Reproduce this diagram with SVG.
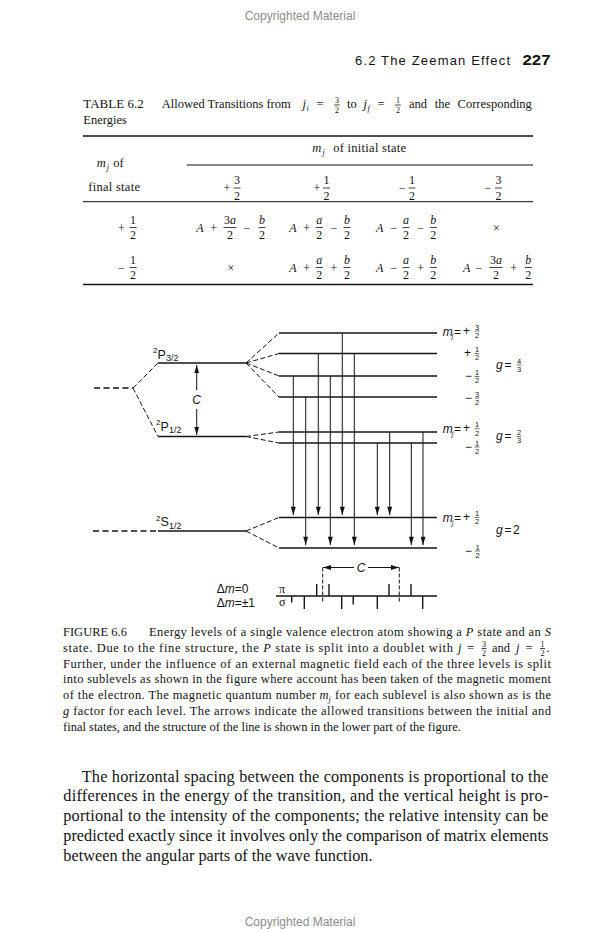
<svg xmlns="http://www.w3.org/2000/svg" width="600" height="933" viewBox="0 0 600 933">
<style>
.s{font-family:"Liberation Serif","Times New Roman",serif;fill:#141414}
.a{font-family:"Liberation Sans",Arial,sans-serif;fill:#141414}
.i{font-style:italic}
.m{text-anchor:middle}
.t{font-size:12.5px}
.f{font-size:12px}
.c{font-size:12.5px}
.b{font-size:16.3px}
.cr{font-family:"Liberation Sans",Arial,sans-serif;font-size:12px;fill:#8c8c8c}
.rule{stroke:#141414;stroke-width:1}
.rule2{stroke:#141414;stroke-width:1.6}
.bar{stroke:#141414;stroke-width:0.8}
.lvl{stroke:#141414;stroke-width:1.6;fill:none}
.dsh{stroke:#141414;stroke-width:1;stroke-dasharray:5 2.5;fill:none}
.dh{stroke:#141414;stroke-width:1.4;stroke-dasharray:6 3.5;fill:none}
.tr{stroke:#141414;stroke-width:1;fill:none;marker-end:url(#ah)}
.tick{stroke:#141414;stroke-width:1.4}
.fr{font-family:"Liberation Sans",Arial,sans-serif;font-size:7.5px;fill:#141414;text-anchor:middle}
.fb{stroke:#141414;stroke-width:0.6}
.lb{font-family:"Liberation Sans",Arial,sans-serif;font-size:12px;fill:#141414}
</style>
<defs>
<marker id="ah" viewBox="0 0 10 6" refX="10" refY="3" markerWidth="10" markerHeight="5" markerUnits="userSpaceOnUse" orient="auto"><path d="M0,0 L10,3 L0,6 z" fill="#141414"/></marker>
<marker id="ah2" viewBox="0 0 10 6" refX="10" refY="3" markerWidth="8" markerHeight="5" markerUnits="userSpaceOnUse" orient="auto-start-reverse"><path d="M0,0 L10,3 L0,6 z" fill="#141414"/></marker>
</defs>
<rect width="600" height="933" fill="#ffffff"/>

<!-- page header -->
<text class="cr m" x="300" y="19.5">Copyrighted Material</text>
<text class="a" x="355" y="65" font-size="13" textLength="155" lengthAdjust="spacing">6.2 The Zeeman Effect</text>
<text class="a" x="522.5" y="65" font-size="14" font-weight="bold" textLength="28" lengthAdjust="spacingAndGlyphs">227</text>

<!-- table caption -->
<g id="table-caption">
<text class="s" font-size="13" x="83.3" y="108">TABLE 6.2</text>
<text class="s t" x="161.7" y="108" textLength="129" lengthAdjust="spacing">Allowed Transitions from</text>
<text class="s t i" x="302.5" y="108">j</text><text class="s i" font-size="8" x="306.5" y="111">i</text>
<text class="s t m" x="320" y="108">=</text>
<text class="s m" font-size="8" x="337" y="103">3</text><line class="bar" x1="334.2" y1="105" x2="339.8" y2="105"/><text class="s m" font-size="8" x="337" y="112.5">2</text>
<text class="s t" x="347" y="108">to</text>
<text class="s t i" x="363.5" y="108">j</text><text class="s i" font-size="8" x="367.5" y="111">f</text>
<text class="s t m" x="381" y="108">=</text>
<text class="s m" font-size="8" x="398" y="103">1</text><line class="bar" x1="395.2" y1="105" x2="400.8" y2="105"/><text class="s m" font-size="8" x="398" y="112.5">2</text>
<text class="s t" x="409" y="108" word-spacing="4.5">and the Corresponding</text>
<text class="s t" x="83.3" y="124">Energies</text>
</g>

<!-- table -->
<g id="table">
<line class="rule2" x1="83" y1="136" x2="533" y2="136"/>
<line class="rule" x1="186.7" y1="165" x2="533" y2="165"/>
<line class="rule" x1="83" y1="201.7" x2="533" y2="201.7"/>
<line class="rule2" x1="83" y1="284.5" x2="533" y2="284.5"/>

<text class="s t i" x="312.3" y="152">m</text><text class="s i" font-size="8" x="322.5" y="155">j</text>
<text class="s t" x="333.3" y="152" textLength="72.7" lengthAdjust="spacing">of initial state</text>
<text class="s t i" x="96.7" y="167">m</text><text class="s i" font-size="8" x="106.8" y="170">j</text>
<text class="s t" x="113.3" y="167">of</text>
<text class="s t" x="88.3" y="191" textLength="51.7" lengthAdjust="spacing">final state</text>

<!-- header fractions -->
<g class="s f">
<text class="m" x="227" y="192">+</text><text class="m" x="237" y="184">3</text><line class="bar" x1="233.5" y1="188" x2="240.5" y2="188"/><text class="m" x="237" y="199.5">2</text>
<text class="m" x="317" y="192">+</text><text class="m" x="326.5" y="184">1</text><line class="bar" x1="323" y1="188" x2="330" y2="188"/><text class="m" x="326.5" y="199.5">2</text>
<text class="m" x="402.5" y="192">−</text><text class="m" x="412" y="184">1</text><line class="bar" x1="408.5" y1="188" x2="415.5" y2="188"/><text class="m" x="412" y="199.5">2</text>
<text class="m" x="488" y="192">−</text><text class="m" x="498.5" y="184">3</text><line class="bar" x1="495" y1="188" x2="502" y2="188"/><text class="m" x="498.5" y="199.5">2</text>
</g>

<!-- row 1 (B=231.5) -->
<g class="s f">
<text class="m" x="121.5" y="231.5">+</text><text class="m" x="133" y="223.5">1</text><line class="bar" x1="129.5" y1="227.5" x2="136.5" y2="227.5"/><text class="m" x="133" y="239">2</text>

<text class="m i" x="200" y="231.5">A</text><text class="m" x="213.7" y="231.5">+</text>
<text class="m" x="230" y="223.5">3<tspan class="i">a</tspan></text><line class="bar" x1="223.5" y1="227.5" x2="236.5" y2="227.5"/><text class="m" x="230" y="239">2</text>
<text class="m" x="247" y="231.5">−</text>
<text class="m i" x="262" y="223.5">b</text><line class="bar" x1="258.5" y1="227.5" x2="265.5" y2="227.5"/><text class="m" x="262" y="239">2</text>

<text class="m i" x="293" y="231.5">A</text><text class="m" x="306.7" y="231.5">+</text>
<text class="m i" x="319.3" y="223.5">a</text><line class="bar" x1="315.8" y1="227.5" x2="322.8" y2="227.5"/><text class="m" x="319.3" y="239">2</text>
<text class="m" x="334" y="231.5">−</text>
<text class="m i" x="347" y="223.5">b</text><line class="bar" x1="343.5" y1="227.5" x2="350.5" y2="227.5"/><text class="m" x="347" y="239">2</text>

<text class="m i" x="379.7" y="231.5">A</text><text class="m" x="394" y="231.5">−</text>
<text class="m i" x="406" y="223.5">a</text><line class="bar" x1="402.5" y1="227.5" x2="409.5" y2="227.5"/><text class="m" x="406" y="239">2</text>
<text class="m" x="420.7" y="231.5">−</text>
<text class="m i" x="433.3" y="223.5">b</text><line class="bar" x1="429.8" y1="227.5" x2="436.8" y2="227.5"/><text class="m" x="433.3" y="239">2</text>

<text class="m" x="496.3" y="231.5">×</text>
</g>

<!-- row 2 (B=271.5) -->
<g class="s f">
<text class="m" x="121.5" y="271.5">−</text><text class="m" x="133" y="263.5">1</text><line class="bar" x1="129.5" y1="267.5" x2="136.5" y2="267.5"/><text class="m" x="133" y="279">2</text>

<text class="m" x="231" y="271.5">×</text>

<text class="m i" x="293" y="271.5">A</text><text class="m" x="306.7" y="271.5">+</text>
<text class="m i" x="319.3" y="263.5">a</text><line class="bar" x1="315.8" y1="267.5" x2="322.8" y2="267.5"/><text class="m" x="319.3" y="279">2</text>
<text class="m" x="334" y="271.5">+</text>
<text class="m i" x="347" y="263.5">b</text><line class="bar" x1="343.5" y1="267.5" x2="350.5" y2="267.5"/><text class="m" x="347" y="279">2</text>

<text class="m i" x="379.7" y="271.5">A</text><text class="m" x="394" y="271.5">−</text>
<text class="m i" x="406" y="263.5">a</text><line class="bar" x1="402.5" y1="267.5" x2="409.5" y2="267.5"/><text class="m" x="406" y="279">2</text>
<text class="m" x="420.7" y="271.5">+</text>
<text class="m i" x="433.3" y="263.5">b</text><line class="bar" x1="429.8" y1="267.5" x2="436.8" y2="267.5"/><text class="m" x="433.3" y="279">2</text>

<text class="m i" x="466.7" y="271.5">A</text><text class="m" x="479" y="271.5">−</text>
<text class="m" x="496" y="263.5">3<tspan class="i">a</tspan></text><line class="bar" x1="489.5" y1="267.5" x2="502.5" y2="267.5"/><text class="m" x="496" y="279">2</text>
<text class="m" x="513.7" y="271.5">+</text>
<text class="m i" x="528.3" y="263.5">b</text><line class="bar" x1="524.8" y1="267.5" x2="531.8" y2="267.5"/><text class="m" x="528.3" y="279">2</text>
</g>
</g>

<!-- FIGURE: energy levels -->
<g id="level-P32">
<line class="lvl" x1="158" y1="363" x2="246" y2="363"/>
<text class="a" font-size="8" x="153" y="353">2</text><text class="a" font-size="12.5" x="157.5" y="358.5">P</text><text class="a" font-size="9" x="166" y="361">3/2</text>
</g>
<g id="level-P12">
<line class="lvl" x1="158" y1="436.5" x2="246" y2="436.5"/>
<text class="a" font-size="8" x="156" y="425">2</text><text class="a" font-size="12.5" x="160.5" y="430.5">P</text><text class="a" font-size="9" x="169" y="433">1/2</text>
</g>
<g id="level-S12">
<line class="lvl" x1="158" y1="531" x2="246" y2="531"/>
<text class="a" font-size="8" x="156" y="520.5">2</text><text class="a" font-size="12.5" x="160.5" y="526">S</text><text class="a" font-size="9" x="169" y="528.5">1/2</text>
</g>
<g id="sublevels-P32">
<line class="lvl" x1="279" y1="333" x2="437" y2="333"/>
<line class="lvl" x1="279" y1="353.5" x2="437" y2="353.5"/>
<line class="lvl" x1="279" y1="376" x2="437" y2="376"/>
<line class="lvl" x1="279" y1="397" x2="437" y2="397"/>
</g>
<g id="sublevels-P12">
<line class="lvl" x1="279" y1="432" x2="437" y2="432"/>
<line class="lvl" x1="279" y1="443" x2="437" y2="443"/>
</g>
<g id="sublevels-S12">
<line class="lvl" x1="279" y1="517.5" x2="437" y2="517.5"/>
<line class="lvl" x1="279" y1="548" x2="437" y2="548"/>
</g>

<!-- connectors -->
<g id="connectors">
<line class="dh" x1="94" y1="388" x2="133" y2="388"/>
<path class="dsh" d="M133,388 L158,363 M133,388 L158,436.5"/>
<line class="dh" x1="93" y1="531" x2="158" y2="531"/>
<path class="dsh" d="M246,363 L279,333 M246,363 L279,353.5 M246,363 L279,376 M246,363 L279,397"/>
<path class="dsh" d="M246,436.5 L279,432 M246,436.5 L279,443"/>
<path class="dsh" d="M246,531 L279,517.5 M246,531 L279,548"/>
<!-- fine-structure splitting C -->
<line stroke="#141414" stroke-width="1" x1="196.7" y1="390" x2="196.7" y2="365" marker-end="url(#ah2)"/>
<line stroke="#141414" stroke-width="1" x1="196.7" y1="409" x2="196.7" y2="435" marker-end="url(#ah2)"/>
<!-- transitions -->
<line class="tr" x1="342.3" y1="333" x2="342.3" y2="515"/>
<line class="tr" x1="318.3" y1="353.5" x2="318.3" y2="515"/>
<line class="tr" x1="354.3" y1="353.5" x2="354.3" y2="545"/>
<line class="tr" x1="293.3" y1="376" x2="293.3" y2="515"/>
<line class="tr" x1="330.3" y1="376" x2="330.3" y2="545"/>
<line class="tr" x1="305.7" y1="397" x2="305.7" y2="545"/>
<line class="tr" x1="389.7" y1="432" x2="389.7" y2="515"/>
<line class="tr" x1="377.3" y1="443" x2="377.3" y2="515"/>
<line class="tr" x1="423" y1="432" x2="423" y2="545"/>
<line class="tr" x1="411.3" y1="443" x2="411.3" y2="545"/>
</g>
<text class="a i m" font-size="12" x="196.5" y="404">C</text>

<!-- right-hand labels -->
<g id="labels-P32">
<text class="lb i" font-size="11" x="442.7" y="335.5">m</text><text class="a i" font-size="7" x="451.8" y="338">j</text><text class="lb" x="454" y="335.5">=</text><text class="lb" x="463" y="334.5">+</text>
<text class="fr" x="477" y="329.7">3</text><line class="fb" x1="474.6" y1="331" x2="479.4" y2="331"/><text class="fr" x="477" y="337.8">2</text>
<text class="lb" x="464" y="357">+</text>
<text class="fr" x="477" y="352.2">1</text><line class="fb" x1="474.6" y1="353.5" x2="479.4" y2="353.5"/><text class="fr" x="477" y="360.3">2</text>
<text class="lb" x="465" y="380">−</text>
<text class="fr" x="477" y="375.2">1</text><line class="fb" x1="474.6" y1="376.5" x2="479.4" y2="376.5"/><text class="fr" x="477" y="383.3">2</text>
<text class="lb" x="465" y="401.5">−</text>
<text class="fr" x="477" y="396.7">3</text><line class="fb" x1="474.6" y1="398" x2="479.4" y2="398"/><text class="fr" x="477" y="404.8">2</text>
<text class="lb i" x="496" y="368.5">g</text><text class="lb" x="504.5" y="368.5">=</text>
<text class="fr" x="519" y="363.7">4</text><line class="fb" x1="516.6" y1="365" x2="521.4" y2="365"/><text class="fr" x="519" y="371.8">3</text>
</g>
<g id="labels-P12">
<text class="lb i" font-size="11" x="442.7" y="433">m</text><text class="a i" font-size="7" x="451.8" y="435.5">j</text><text class="lb" x="454" y="433">=</text><text class="lb" x="463" y="432.2">+</text>
<text class="fr" x="477" y="427.4">1</text><line class="fb" x1="474.6" y1="428.7" x2="479.4" y2="428.7"/><text class="fr" x="477" y="435.5">2</text>
<text class="lb" x="465" y="450.5">−</text>
<text class="fr" x="477" y="445.7">1</text><line class="fb" x1="474.6" y1="447" x2="479.4" y2="447"/><text class="fr" x="477" y="453.8">2</text>
<text class="lb i" x="496" y="440">g</text><text class="lb" x="504.5" y="440">=</text>
<text class="fr" x="519" y="435.2">2</text><line class="fb" x1="516.6" y1="436.5" x2="521.4" y2="436.5"/><text class="fr" x="519" y="443.3">3</text>
</g>
<g id="labels-S12">
<text class="lb i" font-size="11" x="442.7" y="522">m</text><text class="a i" font-size="7" x="451.8" y="524.5">j</text><text class="lb" x="454" y="522">=</text><text class="lb" x="463" y="521">+</text>
<text class="fr" x="477" y="516.2">1</text><line class="fb" x1="474.6" y1="517.5" x2="479.4" y2="517.5"/><text class="fr" x="477" y="524.3">2</text>
<text class="lb" x="465" y="554.5">−</text>
<text class="fr" x="477.5" y="549.7">1</text><line class="fb" x1="475.1" y1="551" x2="479.9" y2="551"/><text class="fr" x="477.5" y="557.8">2</text>
<text class="lb i" x="496" y="533.5">g</text><text class="lb" x="504.5" y="533.5">=</text><text class="lb" x="513" y="533.5">2</text>
</g>

<!-- spectrum -->
<g id="spectrum">
<text class="lb" x="216.7" y="593">Δ<tspan class="i">m</tspan>=0</text>
<text class="lb" x="216.7" y="607">Δ<tspan class="i">m</tspan>=±1</text>
<text class="s" font-size="12" x="279" y="592.5">π</text>
<text class="s" font-size="12" x="279" y="606">σ</text>
<line stroke="#141414" stroke-width="1.4" x1="276" y1="596" x2="437" y2="596"/>
<line class="tick" x1="316.7" y1="596" x2="316.7" y2="584"/>
<line class="tick" x1="329" y1="596" x2="329" y2="584"/>
<line class="tick" x1="389" y1="596" x2="389" y2="584"/>
<line class="tick" x1="411" y1="596" x2="411" y2="584"/>
<line class="tick" x1="291.7" y1="596" x2="291.7" y2="602.5"/>
<line class="tick" x1="304.3" y1="596" x2="304.3" y2="609"/>
<line class="tick" x1="341.7" y1="596" x2="341.7" y2="609"/>
<line class="tick" x1="353.2" y1="596" x2="353.2" y2="604.5"/>
<line class="tick" x1="377.3" y1="596" x2="377.3" y2="609"/>
<line class="tick" x1="422.7" y1="596" x2="422.7" y2="609"/>
<line stroke="#141414" stroke-width="1" stroke-dasharray="4 2" x1="322.7" y1="567.5" x2="322.7" y2="603"/>
<line stroke="#141414" stroke-width="1" stroke-dasharray="4 2" x1="399.3" y1="567.5" x2="399.3" y2="603"/>
<line stroke="#141414" stroke-width="1" x1="354" y1="567.5" x2="323" y2="567.5" marker-end="url(#ah2)"/>
<line stroke="#141414" stroke-width="1" x1="368" y1="567.5" x2="399" y2="567.5" marker-end="url(#ah2)"/>
<text class="a i m" font-size="12" x="361" y="572">C</text>
</g>

<!-- figure caption -->
<g id="figure-caption" class="s c">
<text x="63" y="636">FIGURE 6.6</text>
<text x="149" y="636" textLength="402" lengthAdjust="spacing">Energy levels of a single valence electron atom showing a <tspan class="i">P</tspan> state and an <tspan class="i">S</tspan></text>
<text x="63" y="651.8" textLength="390" lengthAdjust="spacing">state. Due to the fine structure, the <tspan class="i">P</tspan> state is split into a doublet with</text>
<text class="i" x="458" y="651.8">j</text><text x="467" y="651.8">=</text>
<text class="m" font-size="8" x="484" y="646.5">3</text><line class="bar" x1="481.5" y1="648.5" x2="486.5" y2="648.5"/><text class="m" font-size="8" x="484" y="656">2</text>
<text x="492" y="651.8">and</text>
<text class="i" x="516" y="651.8">j</text><text x="525.5" y="651.8">=</text>
<text class="m" font-size="8" x="542.5" y="646.5">1</text><line class="bar" x1="540" y1="648.5" x2="545" y2="648.5"/><text class="m" font-size="8" x="542.5" y="656">2</text>
<text x="546.5" y="651.8">.</text>
<text x="63" y="667.6" textLength="488" lengthAdjust="spacing">Further, under the influence of an external magnetic field each of the three levels is split</text>
<text x="63" y="683.4" textLength="488" lengthAdjust="spacing">into sublevels as shown in the figure where account has been taken of the magnetic moment</text>
<text x="63" y="699.2" textLength="253" lengthAdjust="spacing">of the electron. The magnetic quantum number</text>
<text class="i" x="319.5" y="699.2">m</text><text class="i" font-size="8" x="328.6" y="702">j</text>
<text x="335" y="699.2" textLength="216" lengthAdjust="spacing">for each sublevel is also shown as is the</text>
<text x="63" y="715" textLength="488" lengthAdjust="spacing"><tspan class="i">g</tspan> factor for each level. The arrows indicate the allowed transitions between the initial and</text>
<text x="63" y="730.8">final states, and the structure of the line is shown in the lower part of the figure.</text>
</g>

<!-- body text -->
<g id="body-text" class="s b">
<text x="81.7" y="781.5" textLength="466.6" lengthAdjust="spacing">The horizontal spacing between the components is proportional to the</text>
<text x="63.3" y="801.3" textLength="485" lengthAdjust="spacing">differences in the energy of the transition, and the vertical height is pro-</text>
<text x="63.3" y="821.1" textLength="485" lengthAdjust="spacing">portional to the intensity of the components; the relative intensity can be</text>
<text x="63.3" y="840.9" textLength="485" lengthAdjust="spacing">predicted exactly since it involves only the comparison of matrix elements</text>
<text x="63.3" y="860.7">between the angular parts of the wave function.</text>
</g>

<text class="cr m" x="300" y="926">Copyrighted Material</text>
</svg>
